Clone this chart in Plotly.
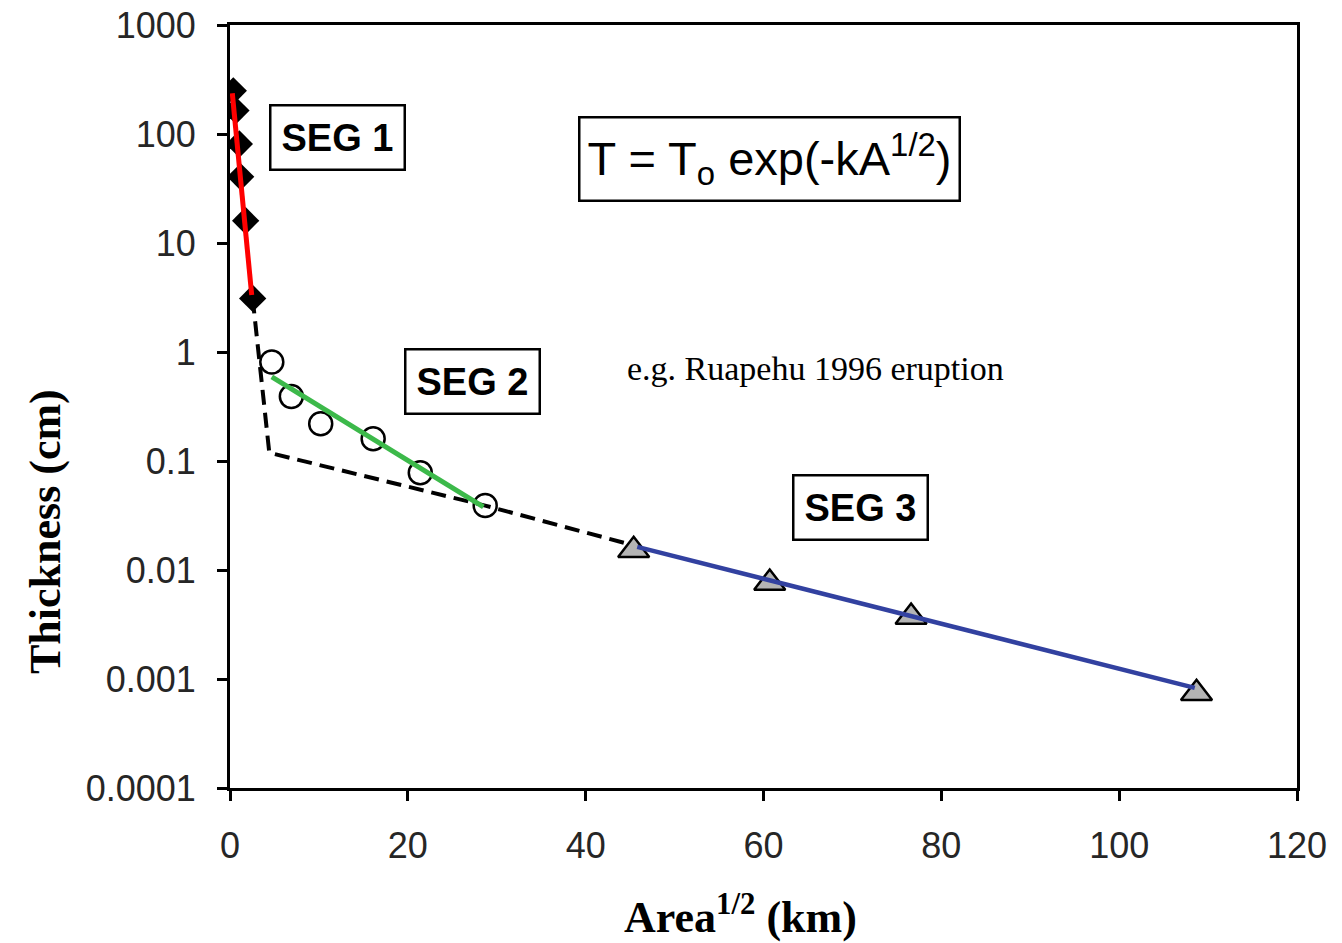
import plotly.graph_objects as go

# Tephra thinning data: square root of isopach area (km) vs deposit thickness (cm)
seg1_x = [0.37, 0.67, 1.05, 1.2, 1.76, 2.55]
seg1_t = [249, 164, 81, 40.5, 16, 3.1]

seg2_x = [4.7, 6.9, 10.2, 16.1, 21.4, 28.7]
seg2_t = [0.81, 0.39, 0.22, 0.16, 0.078, 0.039]

seg3_x = [45.4, 60.7, 76.6, 108.7]
seg3_t = [0.0152, 0.0076, 0.0037, 0.00074]

# Exponential fits for each segment (straight lines on the log axis)
fit1_x = [0.26, 2.44]
fit1_t = [236, 3.33]
fit2_x = [4.7, 28.5]
fit2_t = [0.59, 0.038]
fit3_x = [45.8, 108.5]
fit3_t = [0.0163, 0.00083]

# Overall (segment-joining) trend
trend_x = [2.55, 4.42, 28.7, 45.3]
trend_t = [3.1, 0.119, 0.039, 0.0169]

x_ticks = [0, 20, 40, 60, 80, 100, 120]
y_ticks = [1000, 100, 10, 1, 0.1, 0.01, 0.001, 0.0001]
y_tick_text = ["1000", "100", "10", "1", "0.1", "0.01", "0.001", "0.0001"]

SANS = "Liberation Sans, Arial, sans-serif"
SERIF = "Liberation Serif, Times New Roman, serif"

fig = go.Figure()

fig.add_trace(go.Scatter(x=trend_x, y=trend_t, mode="lines",
                         line=dict(color="black", width=4, dash="15px,8px"),
                         showlegend=False, hoverinfo="skip"))
fig.add_trace(go.Scatter(x=seg2_x, y=seg2_t, mode="markers",
                         marker=dict(symbol="circle-open", size=23, color="black",
                                     line=dict(width=2.5, color="black")),
                         showlegend=False))
fig.add_trace(go.Scatter(x=seg1_x, y=seg1_t, mode="markers",
                         marker=dict(symbol="diamond", size=21, color="black"),
                         showlegend=False))
fig.add_trace(go.Scatter(x=seg3_x, y=seg3_t, mode="markers",
                         marker=dict(symbol="triangle-up", size=27, color="#b4b4b4",
                                     line=dict(width=2.5, color="black")),
                         showlegend=False))
fig.add_trace(go.Scatter(x=fit1_x, y=fit1_t, mode="lines",
                         line=dict(color="#ff0000", width=5),
                         showlegend=False, hoverinfo="skip"))
fig.add_trace(go.Scatter(x=fit2_x, y=fit2_t, mode="lines",
                         line=dict(color="#3cb94a", width=5),
                         showlegend=False, hoverinfo="skip"))
fig.add_trace(go.Scatter(x=fit3_x, y=fit3_t, mode="lines",
                         line=dict(color="#3241a0", width=4.5),
                         showlegend=False, hoverinfo="skip"))

box = dict(bordercolor="black", borderwidth=2.5, bgcolor="white",
           showarrow=False, xref="paper", yref="paper",
           xanchor="center", yanchor="middle")
plain = dict(showarrow=False, xref="paper", yref="paper",
             xanchor="center", yanchor="middle")

annotations = [
    dict(text="<b>SEG 1</b>", x=0.1012, y=0.853, borderpad=10,
         font=dict(family=SANS, size=38, color="black"), **box),
    dict(text="<b>SEG 2</b>", x=0.2277, y=0.5334, borderpad=10,
         font=dict(family=SANS, size=38, color="black"), **box),
    dict(text="<b>SEG 3</b>", x=0.591, y=0.367, borderpad=10,
         font=dict(family=SANS, size=38, color="black"), **box),
    dict(text="T = T<sub>o</sub> exp(-kA<sup>1/2</sup>)", x=0.506, y=0.825, borderpad=7,
         font=dict(family=SANS, size=47, color="black"), **box),
    dict(text="e.g. Ruapehu 1996 eruption", x=0.549, y=0.55,
         font=dict(family=SERIF, size=34, color="black"), **plain),
    # axis titles
    dict(text="<b>Area<sup>1/2</sup> (km)</b>", x=0.478, y=-0.1664,
         font=dict(family=SERIF, size=44, color="black"), **plain),
    dict(text="<b>Thickness (cm)</b>", x=-0.1734, y=0.3368, textangle=-90,
         font=dict(family=SERIF, size=44, color="black"), **plain),
]

fig.update_layout(
    width=1342, height=943,
    margin=dict(l=230, r=45, t=25, b=155),
    plot_bgcolor="white", paper_bgcolor="white",
    annotations=annotations,
    showlegend=False,
    xaxis=dict(
        range=[0, 120], tickvals=x_ticks, automargin=False,
        ticks="outside", ticklen=10, tickwidth=2.5, tickcolor="black",
        showline=True, linecolor="black", linewidth=3, mirror=True,
        showgrid=False, zeroline=False, ticklabelstandoff=14,
        tickfont=dict(family=SANS, size=36, color="#262626"),
    ),
    yaxis=dict(
        type="log", range=[-4, 3], tickvals=y_ticks, ticktext=y_tick_text,
        automargin=False,
        ticks="outside", ticklen=10, tickwidth=2.5, tickcolor="black",
        showline=True, linecolor="black", linewidth=3, mirror=True,
        showgrid=False, zeroline=False, ticklabelstandoff=14,
        tickfont=dict(family=SANS, size=36, color="#262626"),
    ),
)

fig.write_html("out.html")
